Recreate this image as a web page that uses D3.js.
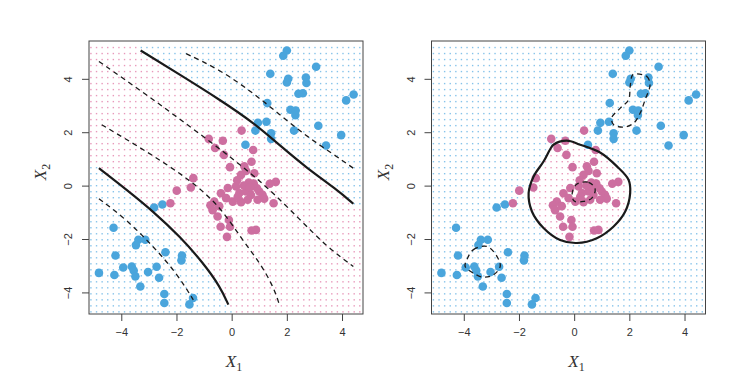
<!DOCTYPE html>
<html>
<head>
<meta charset="utf-8">
<script src="https://cdn.jsdelivr.net/npm/d3@7"></script>
<style>
  body { margin: 0; background: #fff; }
  text { font-family: "Liberation Sans", Arial, sans-serif; }
</style>
</head>
<body>
<script>
// observations (same in both panels)
var blue = [
  [2.00, 5.08], [1.87, 4.88], [3.06, 4.47], [1.40, 4.21], [2.05, 4.02], [2.00, 3.88],
  [2.69, 4.07], [2.71, 3.86], [2.42, 3.46], [2.58, 3.48], [4.42, 3.43], [4.15, 3.21],
  [1.29, 3.11], [2.13, 2.86], [2.32, 2.83], [2.31, 2.66], [0.95, 2.37], [1.26, 2.41],
  [0.86, 2.08], [2.26, 2.08], [3.14, 2.26], [1.43, 1.98], [1.43, 1.77], [3.97, 1.91],
  [3.42, 1.52], [0.50, 1.55],
  [-2.81, -0.80], [-2.51, -0.69],
  [-4.28, -1.56], [-3.38, -2.01], [-3.13, -2.01], [-3.47, -2.21], [-2.40, -2.48],
  [-4.21, -2.60], [-1.80, -2.60], [-1.82, -2.78], [-3.93, -3.05], [-3.62, -3.01],
  [-3.55, -3.16], [-3.49, -3.38], [-2.72, -3.02], [-3.03, -3.22], [-2.63, -3.43],
  [-4.81, -3.25], [-4.25, -3.33], [-3.31, -3.76], [-2.44, -4.04], [-2.44, -4.38],
  [-1.40, -4.19], [-1.53, -4.43]
];
var pink = [
  [0.36, 2.08], [-0.83, 1.77], [-0.32, 1.70], [-0.60, 1.43], [-0.28, 1.17], [0.78, 1.35],
  [-0.06, 0.71], [0.72, 0.91], [0.46, 0.74], [0.52, 0.57], [0.82, 0.48], [0.34, 0.42],
  [-1.39, 0.30], [-1.48, -0.05], [-1.99, -0.17], [-2.22, -0.64], [1.60, 0.16], [1.38, 0.09],
  [-0.14, -0.07], [0.16, -0.01], [0.28, -0.26], [0.52, -0.20], [0.70, -0.33], [1.00, -0.20],
  [1.12, -0.33], [1.18, -0.47], [0.94, -0.51], [0.58, -0.51], [0.34, -0.60], [0.04, -0.58],
  [-0.39, -0.27], [-0.63, -0.58], [-0.77, -0.72], [-0.69, -0.90], [-0.51, -1.14],
  [1.52, -0.64], [-0.10, -1.27], [-0.06, -1.52], [-0.40, -1.52], [0.72, -1.66], [0.88, -1.64],
  [-0.17, -1.90], [0.62, 0.13], [0.92, -0.08], [0.20, 0.22], [0.44, 0.02], [-0.20, -0.45],
  [0.80, 0.10], [-0.45, -0.75], [0.22, -0.40], [0.66, -0.05]
];

// left panel (polynomial kernel): boundaries and margins
var polyUpper = [[-3.30, 5.08], [-1.87, 4.17], [-0.42, 3.23], [0.79, 2.38], [1.75, 1.52], [2.72, 0.68], [3.80, -0.12], [4.41, -0.66]];
var polyLower = [[-4.81, 0.67], [-3.80, -0.14], [-2.84, -0.95], [-1.87, -1.89], [-1.03, -2.88], [-0.42, -3.76], [-0.12, -4.44]];
var polyMargins = [
  [[-1.65, 4.96], [-0.42, 4.36], [0.79, 3.48], [1.75, 2.67], [2.72, 1.86], [3.68, 1.20], [4.41, 0.67]],
  [[-4.81, 4.67], [-3.08, 3.42], [-1.51, 2.23], [-0.06, 1.11], [1.27, -0.01], [2.48, -1.26], [3.44, -2.26], [4.41, -3.01]],
  [[-4.71, 2.30], [-3.08, 1.30], [-1.51, 0.24], [-0.42, -0.76], [0.30, -1.89], [1.03, -2.88], [1.51, -3.76], [1.73, -4.44]],
  [[-4.81, -0.47], [-3.80, -1.26], [-2.84, -2.26], [-1.99, -3.26], [-1.39, -4.26]]
];

// right panel (radial kernel)
var radialBoundary = [[-0.75, 1.55], [-0.27, 1.70], [0.22, 1.55], [0.94, 1.26], [1.55, 0.74], [1.97, 0.24],
  [2.03, -0.26], [1.85, -0.95], [1.43, -1.51], [0.82, -1.95], [0.10, -2.13], [-0.51, -2.02],
  [-1.11, -1.57], [-1.53, -0.95], [-1.65, -0.26], [-1.47, 0.36], [-1.11, 0.92], [-0.86, 1.40]];
var radialMargins = [
  [[0.10, 0.08], [0.52, 0.14], [0.76, -0.10], [0.64, -0.45], [0.34, -0.57], [0.00, -0.56], [-0.07, -0.26]],
  [[2.15, 4.19], [2.63, 4.11], [2.75, 3.80], [2.57, 3.23], [2.39, 2.73], [2.15, 2.35], [1.79, 2.21],
   [1.43, 2.30], [1.36, 2.55], [1.67, 2.92], [1.97, 3.23], [2.03, 3.73], [2.09, 4.11]],
  [[-3.89, -2.76], [-3.65, -2.38], [-3.16, -2.26], [-2.80, -2.63], [-2.68, -3.01], [-2.92, -3.32],
   [-3.29, -3.41], [-3.65, -3.26], [-3.95, -3.01]]
];

var ticks = [-4, -2, 0, 2, 4];

var W = 749, H = 378;
var pw = 274, ph = 273, plotTop = 41;
var blueCol = "#4aa5dc", pinkCol = "#cd6fa0";
var blueDot = "#86c3ea", pinkDot = "#e899bb";

var svg = d3.select("body").append("svg").attr("width", W).attr("height", H);

var upperFn = d3.scaleLinear().domain(polyUpper.map(d => d[0])).range(polyUpper.map(d => d[1]));
var lowerFn = d3.scaleLinear().domain(polyLower.map(d => d[0])).range(polyLower.map(d => d[1]));

var panels = [
  { left: 89, isPink: function(x, y) { return y < upperFn(x) && y > lowerFn(x); },
    solid: [polyUpper, polyLower], dashed: polyMargins, closed: false },
  { left: 431.5, isPink: function(x, y) { return d3.polygonContains(radialBoundary, [x, y]); },
    solid: [radialBoundary], dashed: radialMargins, closed: true }
];

panels.forEach(function(p) {
  var x = d3.scaleLinear().domain([-5.17, 4.76]).range([p.left, p.left + pw]);
  var y = d3.scaleLinear().domain([-4.79, 5.435]).range([plotTop + ph, plotTop]);
  var g = svg.append("g");

  // background grid of predicted classes
  var gx = d3.range(-5.10, 4.70, 0.203), gy = d3.range(-4.71, 5.40, 0.225);
  var grid = [];
  gx.forEach(function(a) { gy.forEach(function(b) { grid.push([a, b]); }); });
  g.append("g").selectAll("rect").data(grid).enter().append("rect")
    .attr("x", d => x(d[0]) - 0.7).attr("y", d => y(d[1]) - 0.7)
    .attr("width", 1.4).attr("height", 1.4)
    .attr("fill", d => p.isPink(d[0], d[1]) ? pinkDot : blueDot);

  var line = d3.line().x(d => x(d[0])).y(d => y(d[1]))
    .curve(p.closed ? d3.curveCatmullRomClosed : d3.curveBasis);

  // points
  g.append("g").selectAll("circle").data(blue).enter().append("circle")
    .attr("cx", d => x(d[0])).attr("cy", d => y(d[1])).attr("r", 4.3).attr("fill", blueCol);
  g.append("g").selectAll("circle").data(pink).enter().append("circle")
    .attr("cx", d => x(d[0])).attr("cy", d => y(d[1])).attr("r", 4.3).attr("fill", pinkCol);

  g.selectAll("path.solid").data(p.solid).enter().append("path").attr("class", "solid")
    .attr("d", line).attr("fill", "none").attr("stroke", "#1a1a1a").attr("stroke-width", 2.2);
  g.selectAll("path.dash").data(p.dashed).enter().append("path").attr("class", "dash")
    .attr("d", line).attr("fill", "none").attr("stroke", "#1a1a1a")
    .attr("stroke-width", 1.3).attr("stroke-dasharray", "5,4");

  // frame and axes
  g.append("rect").attr("x", p.left).attr("y", plotTop).attr("width", pw).attr("height", ph)
    .attr("fill", "none").attr("stroke", "#444").attr("stroke-width", 1);

  var xa = g.append("g").attr("transform", "translate(0," + (plotTop + ph) + ")")
    .call(d3.axisBottom(x).tickValues(ticks).tickSize(7).tickFormat(d3.format("d")));
  var ya = g.append("g").attr("transform", "translate(" + p.left + ",0)")
    .call(d3.axisLeft(y).tickValues(ticks).tickSize(7).tickFormat(d3.format("d")));
  [xa, ya].forEach(function(a) {
    a.select(".domain").remove();
    a.selectAll("line").attr("stroke", "#444");
    a.selectAll("text").attr("fill", "#333").style("font-size", "11px")
      .style("font-family", "'Liberation Sans', Arial, sans-serif");
  });
  xa.selectAll("text").attr("y", 14);
  ya.selectAll(".tick").attr("transform", null);
  ya.selectAll(".tick line").attr("transform", d => "translate(0," + y(d) + ")");
  ya.selectAll(".tick text").attr("x", 0).attr("y", 0).attr("dy", 0)
    .attr("text-anchor", "middle")
    .attr("transform", d => "translate(-17," + y(d) + ") rotate(-90)");

  // axis titles
  var t1 = g.append("text").attr("x", p.left + 145).attr("y", 367)
    .attr("text-anchor", "middle")
    .style("font-family", "'Liberation Serif', 'Times New Roman', serif").attr("fill", "#333");
  t1.append("tspan").text("X").style("font-style", "italic").style("font-size", "17px");
  t1.append("tspan").text("1").attr("dy", 4).style("font-size", "12px");

  var t2 = g.append("text").attr("transform", "translate(" + (p.left - 43) + ",172) rotate(-90)")
    .attr("text-anchor", "middle")
    .style("font-family", "'Liberation Serif', 'Times New Roman', serif").attr("fill", "#333");
  t2.append("tspan").text("X").style("font-style", "italic").style("font-size", "17px");
  t2.append("tspan").text("2").attr("dy", 4).style("font-size", "12px");
});
</script>
</body>
</html>
